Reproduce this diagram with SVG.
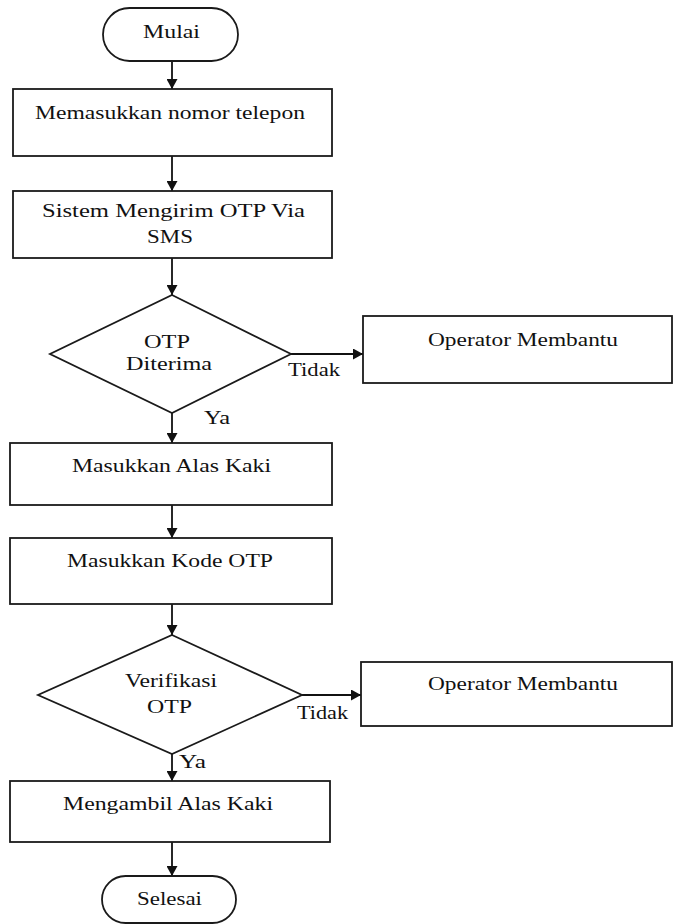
<svg xmlns="http://www.w3.org/2000/svg" width="676" height="924" viewBox="0 0 676 924">
<style>
.s{fill:#fff;stroke:#1a1a1a;stroke-width:1.8}
.t{font-family:"Liberation Serif","Times New Roman",serif;font-size:18px;fill:#111;text-anchor:middle}
.c{stroke:#111;stroke-width:1.8;fill:none;marker-end:url(#ah)}
</style>
<defs>
<marker id="ah" markerUnits="userSpaceOnUse" markerWidth="11" markerHeight="11" refX="10" refY="5.5" orient="auto">
<path d="M0,0 L10,5.5 L0,11 z" fill="#111"/>
</marker>
</defs>
<rect width="676" height="924" fill="#fff"/>
<g id="connectors">
<line class="c" x1="172" y1="61" x2="172" y2="89"/>
<line class="c" x1="172" y1="156" x2="172" y2="191"/>
<line class="c" x1="172" y1="258" x2="172" y2="295"/>
<line class="c" x1="291" y1="354" x2="363" y2="354"/>
<line class="c" x1="172" y1="413" x2="172" y2="443"/>
<line class="c" x1="172" y1="505" x2="172" y2="538"/>
<line class="c" x1="172" y1="604" x2="172" y2="635"/>
<line class="c" x1="302" y1="695" x2="361" y2="695"/>
<line class="c" x1="172" y1="754" x2="172" y2="781"/>
<line class="c" x1="172" y1="842" x2="172" y2="876"/>
<text class="t" x="314" y="376" textLength="52" lengthAdjust="spacingAndGlyphs">Tidak</text>
<text class="t" x="217" y="424" textLength="26" lengthAdjust="spacingAndGlyphs">Ya</text>
<text class="t" x="322.5" y="719" textLength="51" lengthAdjust="spacingAndGlyphs">Tidak</text>
<text class="t" x="192.5" y="768" textLength="27" lengthAdjust="spacingAndGlyphs">Ya</text>
</g>
<g id="mulai">
<rect class="s" x="103" y="8" width="135" height="53" rx="26.5"/>
<text class="t" x="171.5" y="38" textLength="57" lengthAdjust="spacingAndGlyphs">Mulai</text>
</g>
<g id="nomor">
<rect class="s" x="13" y="89" width="319" height="67"/>
<text class="t" x="170" y="119" textLength="270" lengthAdjust="spacingAndGlyphs">Memasukkan nomor telepon</text>
</g>
<g id="kirim">
<rect class="s" x="13" y="191" width="319" height="67"/>
<text class="t" x="173.5" y="217" textLength="263" lengthAdjust="spacingAndGlyphs">Sistem Mengirim OTP Via</text>
<text class="t" x="170" y="243" textLength="46" lengthAdjust="spacingAndGlyphs">SMS</text>
</g>
<g id="diterima">
<polygon class="s" points="172,295 291,354 172,413 50,354"/>
<text class="t" x="167" y="348" textLength="46" lengthAdjust="spacingAndGlyphs">OTP</text>
<text class="t" x="169" y="370" textLength="86" lengthAdjust="spacingAndGlyphs">Diterima</text>
</g>
<g id="operator1">
<rect class="s" x="363" y="316" width="309" height="67"/>
<text class="t" x="523" y="346" textLength="190" lengthAdjust="spacingAndGlyphs">Operator Membantu</text>
</g>
<g id="alas">
<rect class="s" x="10" y="443" width="322" height="62"/>
<text class="t" x="171.5" y="472" textLength="199" lengthAdjust="spacingAndGlyphs">Masukkan Alas Kaki</text>
</g>
<g id="kode">
<rect class="s" x="10" y="538" width="322" height="66"/>
<text class="t" x="170" y="567" textLength="206" lengthAdjust="spacingAndGlyphs">Masukkan Kode OTP</text>
</g>
<g id="verifikasi">
<polygon class="s" points="172,635 302,695 172,754 38,695"/>
<text class="t" x="171" y="687" textLength="92" lengthAdjust="spacingAndGlyphs">Verifikasi</text>
<text class="t" x="169.5" y="713" textLength="45" lengthAdjust="spacingAndGlyphs">OTP</text>
</g>
<g id="operator2">
<rect class="s" x="361" y="662" width="311" height="64"/>
<text class="t" x="523" y="690" textLength="190" lengthAdjust="spacingAndGlyphs">Operator Membantu</text>
</g>
<g id="ambil">
<rect class="s" x="10" y="781" width="320" height="61"/>
<text class="t" x="168" y="810" textLength="210" lengthAdjust="spacingAndGlyphs">Mengambil Alas Kaki</text>
</g>
<g id="selesai">
<rect class="s" x="102" y="876" width="134" height="47" rx="23.5"/>
<text class="t" x="169.5" y="905" textLength="65" lengthAdjust="spacingAndGlyphs">Selesai</text>
</g>
</svg>
